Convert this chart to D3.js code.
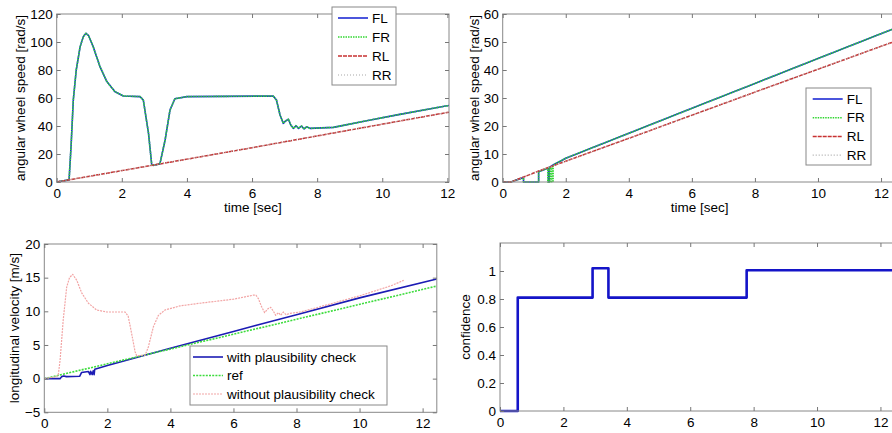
<!DOCTYPE html>
<html>
<head>
<meta charset="utf-8">
<script src="https://cdn.jsdelivr.net/npm/d3@7"></script>
<style>
  body { margin: 0; background: #fff; }
  svg { display: block; font-family: "Liberation Sans", Arial, sans-serif; }
</style>
</head>
<body>
<script>
// values, [time, value]
const xTicks = [0, 2, 4, 6, 8, 10, 12];
const wheelTicksA = [0, 20, 40, 60, 80, 100, 120];
const wheelTicksB = [0, 10, 20, 30, 40, 50, 60];
const velTicks = [-5, 0, 5, 10, 15, 20];
const confTicks = [0, 0.2, 0.4, 0.6, 0.8, 1];

const wheelNames = ['FL', 'FR', 'RL', 'RR'];
const velNames = ['with plausibility check', 'ref', 'without plausibility check'];

// top left: front wheels spinning, rear wheels rolling
const spinFront = [[0, 0], [0.38, 1.5], [0.44, 25], [0.51, 58.6], [0.6, 80], [0.72, 96.7], [0.82, 104], [0.9, 106.2],
    [0.98, 104.5], [1.12, 96.7], [1.33, 82.4], [1.54, 71.7], [1.79, 64.5], [2.05, 61.4], [2.56, 61], [2.66, 58.6],
    [2.82, 34.8], [2.92, 12.1], [2.97, 11.9], [3.17, 12.9], [3.33, 30], [3.48, 51.4], [3.63, 59.5], [4.0, 61],
    [6.65, 61.4], [6.75, 58.6], [6.86, 47.9], [6.96, 41.9], [7.04, 43.8], [7.12, 44.8], [7.19, 40.7], [7.27, 38.3],
    [7.35, 40.2], [7.43, 38.3], [7.52, 40], [7.6, 37.9], [7.68, 39.5], [7.78, 38.3], [8.5, 39], [9.52, 43.8],
    [10.54, 48.3], [11.95, 54.3], [12.05, 54.6]];
const spinRear = [[0, 0], [3, 12.2], [6, 24.5], [9, 37.1], [12.05, 49.9]];

// top right: wheel speeds after the check
const checkFL = [[0, 0], [0.26, 0], [0.66, 1.6], [0.66, 0], [1.14, 0], [1.14, 3.7], [1.45, 5.0], [1.45, 0], [1.48, 0],
    [1.48, 5.2], [1.6, 6.1], [2, 8.5], [4, 17.4], [6, 26.3], [8, 35.2], [10, 44.1], [12.5, 55.2]];
const checkFR = [[0, 0], [0.26, 0], [0.66, 1.6], [0.66, 0], [1.14, 0], [1.14, 3.7], [1.43, 4.9], [1.43, 0], [1.47, 0],
    [1.47, 5.1], [1.51, 5.2], [1.51, 0], [1.55, 0], [1.55, 5.4], [1.58, 5.5], [1.58, 0], [1.6, 0], [1.6, 6.1],
    [2, 8.5], [4, 17.4], [6, 26.3], [8, 35.2], [10, 44.1], [12.5, 55.2]];
const checkRear = [[0, 0], [0.26, 0], [1.16, 4.0], [4, 15.6], [8, 32.1], [12.5, 50.5]];

// bottom left: longitudinal velocity
const velWith = [[0, 0], [0.5, 0], [0.55, 0.3], [0.62, 0.4], [0.7, 0.3], [1.12, 0.35], [1.18, 0.9], [1.4, 1.05],
    [1.45, 0.6], [1.47, 1.1], [1.52, 0.6], [1.55, 1.15], [1.58, 0.6], [1.6, 1.4], [2, 1.95], [4, 4.5], [6, 7.0],
    [6.7, 7.9], [8, 9.5], [10, 12.0], [12.45, 14.8]];
const velRef = [[0, 0], [2, 2.2], [6, 6.6], [12.45, 13.75]];
const velWithout = [[0, 0], [0.34, 0.25], [0.44, 0.45], [0.5, 2.7], [0.6, 8.7], [0.71, 13.6], [0.8, 15.0], [0.9, 15.5],
    [1.03, 14.6], [1.19, 12.7], [1.4, 11.2], [1.66, 10.2], [1.98, 9.9], [2.56, 9.9], [2.66, 9.3], [2.77, 6.7],
    [2.88, 4.0], [2.93, 3.4], [3.2, 3.5], [3.3, 4.7], [3.46, 7.7], [3.62, 9.4], [3.83, 10.2], [4.3, 10.8],
    [4.93, 11.2], [6.0, 11.8], [6.63, 12.4], [6.71, 12.4], [6.79, 11.9], [6.89, 10.7], [6.99, 9.8], [7.1, 10.4],
    [7.18, 10.6], [7.27, 10.0], [7.34, 9.4], [7.43, 9.8], [7.5, 9.4], [7.58, 9.9], [7.67, 9.5], [7.8, 9.7],
    [8.12, 9.9], [9, 11.0], [10, 12.3], [11, 13.8], [11.4, 14.6]];

// bottom right: confidence
const confidence = [[0, 0], [0.56, 0], [0.56, 0.81], [2.92, 0.81], [2.92, 1.02], [3.42, 1.02], [3.42, 0.81],
    [7.78, 0.81], [7.78, 1.005], [12.5, 1.005]];

const fontSize = 13.5;
let svg = d3.select('body').append('svg')
    .attr('width', 892)
    .attr('height', 433);
svg.append('rect').attr('width', 892).attr('height', 433).attr('fill', '#fff');

const styles = {
    FL: { color: '#1f2bd4', width: 1.6, dash: null },
    FR: { color: '#33d633', width: 1.6, dash: '1.5,1' },
    RL: { color: '#c83232', width: 1.5, dash: '4,1' },
    RR: { color: '#a8a8a8', width: 1.1, dash: '1,2' },
    with: { color: '#1c1cb4', width: 1.6, dash: null },
    ref: { color: '#3ddc3d', width: 1.6, dash: '2,1.2' },
    without: { color: '#f2a5a5', width: 1.2, dash: '2,1' },
    conf: { color: '#1414c8', width: 2.6, dash: null }
};

function styleAxis(a) {
    a.select('.domain').remove();
    a.attr('font-size', fontSize).attr('font-family', null).attr('color', '#000');
    a.selectAll('line').attr('stroke', '#777');
}

function drawPanel(cfg) {
    let g = svg.append('g');
    let x = d3.scaleLinear().domain(cfg.xDomain).range([cfg.left, cfg.right]);
    let y = d3.scaleLinear().domain(cfg.yDomain).range([cfg.bottom, cfg.top]);

    g.append('defs').append('clipPath')
        .attr('id', cfg.id)
        .append('rect')
        .attr('x', cfg.left)
        .attr('y', cfg.top - 2)
        .attr('width', cfg.right - cfg.left)
        .attr('height', cfg.bottom - cfg.top + 4);

    let line = d3.line().x(d => x(d[0])).y(d => y(d[1]));
    for (let s of cfg.series) {
        let st = styles[s.style];
        g.append('path')
            .attr('clip-path', `url(#${cfg.id})`)
            .attr('d', line(s.data))
            .attr('fill', 'none')
            .attr('stroke', st.color)
            .attr('stroke-width', st.width)
            .attr('stroke-dasharray', st.dash)
            .attr('stroke-linejoin', 'round');
    }

    g.append('rect')
        .attr('x', cfg.left)
        .attr('y', cfg.top)
        .attr('width', cfg.right - cfg.left)
        .attr('height', cfg.bottom - cfg.top)
        .attr('fill', 'none')
        .attr('stroke', '#888')
        .attr('stroke-width', 1);

    g.append('g')    // x axis
        .attr('transform', `translate(0,${cfg.bottom})`)
        .call(d3.axisBottom(x).tickValues(xTicks).tickSize(-4).tickSizeOuter(0).tickPadding(6))
        .call(styleAxis);
    g.append('g')
        .attr('transform', `translate(0,${cfg.top})`)
        .call(d3.axisTop(x).tickValues(xTicks).tickSize(-4).tickSizeOuter(0).tickFormat(''))
        .call(styleAxis);
    g.append('g')    // y axis
        .attr('transform', `translate(${cfg.left},0)`)
        .call(d3.axisLeft(y).tickValues(cfg.yTicks).tickSize(-4).tickSizeOuter(0).tickPadding(4)
            .tickFormat(d3.format('~g')))
        .call(styleAxis);
    g.append('g')
        .attr('transform', `translate(${cfg.right},0)`)
        .call(d3.axisRight(y).tickValues(cfg.yTicks).tickSize(-4).tickSizeOuter(0).tickFormat(''))
        .call(styleAxis);

    if (cfg.xLabel) {
        g.append('text')
            .attr('x', (cfg.left + cfg.right) / 2)
            .attr('y', cfg.xLabelY)
            .attr('text-anchor', 'middle')
            .attr('font-size', fontSize)
            .text(cfg.xLabel);
    }
    g.append('text')
        .attr('transform', 'rotate(-90)')
        .attr('x', -(cfg.top + cfg.bottom) / 2)
        .attr('y', cfg.yLabelX)
        .attr('dy', '0.35em')
        .attr('text-anchor', 'middle')
        .attr('font-size', fontSize)
        .text(cfg.yLabel);

    if (cfg.legend) drawLegend(g, cfg.legend);
}

function drawLegend(g, L) {
    g.append('rect')
        .attr('x', L.x)
        .attr('y', L.y)
        .attr('width', L.w)
        .attr('height', L.h)
        .attr('fill', '#fff')
        .attr('stroke', '#888');
    L.items.forEach((it, i) => {
        let st = styles[it.style];
        let yy = L.y + L.first + i * L.step;
        g.append('line')
            .attr('x1', L.x + L.lineX)
            .attr('x2', L.x + L.lineX + 30)
            .attr('y1', yy)
            .attr('y2', yy)
            .attr('stroke', st.color)
            .attr('stroke-width', st.width)
            .attr('stroke-dasharray', st.dash);
        g.append('text')
            .attr('x', L.x + L.lineX + 34)
            .attr('y', yy)
            .attr('dy', '0.35em')
            .attr('font-size', fontSize)
            .text(it.name);
    });
}

let wheelStyles = ['FL', 'FR', 'RL', 'RR'];

drawPanel({
    id: 'clipA', left: 56.7, right: 449, top: 14, bottom: 182,
    xDomain: [0, 12.05], yDomain: [0, 120], yTicks: wheelTicksA,
    xLabel: 'time [sec]', xLabelY: 212,
    yLabel: 'angular wheel speed [rad/s]', yLabelX: 20,
    series: [
        { style: 'FL', data: spinFront },
        { style: 'FR', data: spinFront },
        { style: 'RL', data: spinRear },
        { style: 'RR', data: spinRear }
    ],
    legend: { x: 332, y: 7, w: 64, h: 78, first: 11, step: 19, lineX: 6,
        items: wheelNames.map((n, i) => ({ name: n, style: wheelStyles[i] })) }
});

drawPanel({
    id: 'clipB', left: 502.7, right: 896.8, top: 14, bottom: 182,
    xDomain: [0, 12.5], yDomain: [0, 60], yTicks: wheelTicksB,
    xLabel: 'time [sec]', xLabelY: 212,
    yLabel: 'angular wheel speed [rad/s]', yLabelX: 474,
    series: [
        { style: 'FL', data: checkFL },
        { style: 'FR', data: checkFR },
        { style: 'RL', data: checkRear },
        { style: 'RR', data: checkRear }
    ],
    legend: { x: 806, y: 88, w: 65, h: 77, first: 11, step: 18.7, lineX: 6.7,
        items: wheelNames.map((n, i) => ({ name: n, style: wheelStyles[i] })) }
});

drawPanel({
    id: 'clipC', left: 44.3, right: 436.8, top: 244, bottom: 412.3,
    xDomain: [0, 12.45], yDomain: [-5, 20], yTicks: velTicks,
    yLabel: 'longitudinal velocity [m/s]', yLabelX: 14,
    series: [
        { style: 'with', data: velWith },
        { style: 'ref', data: velRef },
        { style: 'without', data: velWithout }
    ],
    legend: { x: 190, y: 346, w: 197, h: 59, first: 11, step: 18.5, lineX: 3,
        items: velNames.map((n, i) => ({ name: n, style: ['with', 'ref', 'without'][i] })) }
});

drawPanel({
    id: 'clipD', left: 500, right: 896.3, top: 243, bottom: 411,
    xDomain: [0, 12.5], yDomain: [0, 1.2], yTicks: confTicks,
    yLabel: 'confidence', yLabelX: 465,
    series: [
        { style: 'conf', data: confidence }
    ]
});
</script>
</body>
</html>
